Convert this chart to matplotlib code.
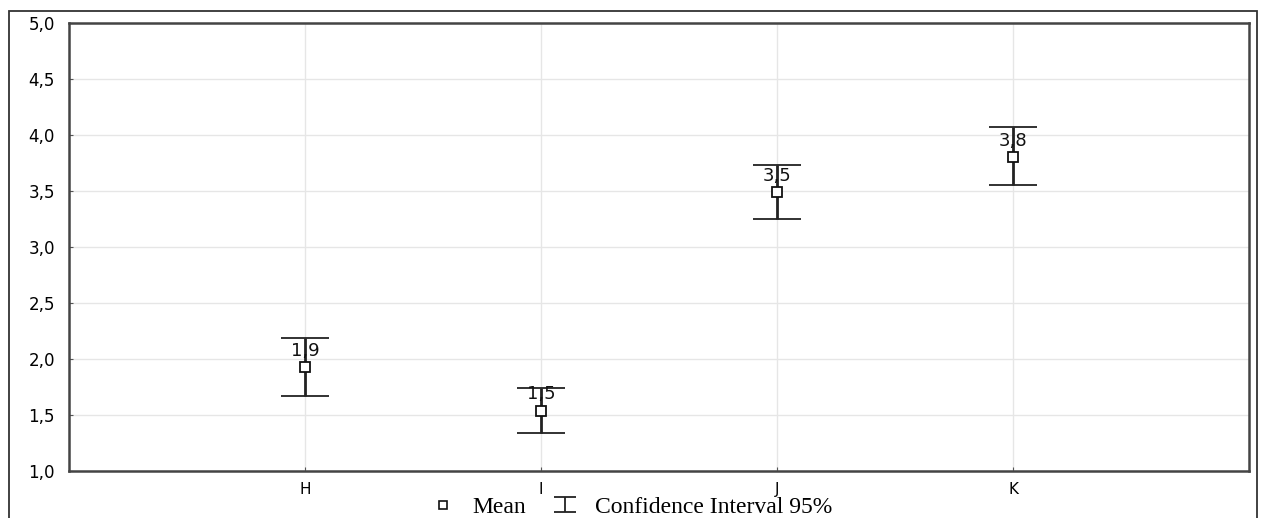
import matplotlib
matplotlib.use("Agg")
import matplotlib.pyplot as plt
from matplotlib.lines import Line2D
from matplotlib.patches import Rectangle
from matplotlib.legend_handler import HandlerErrorbar

categories = ["H", "I", "J", "K"]
means = [1.93, 1.54, 3.49, 3.80]
ci_upper = [2.19, 1.74, 3.73, 4.07]
ci_lower = [1.67, 1.34, 3.25, 3.55]
value_labels = ["1,9", "1,5", "3,5", "3,8"]
yticks = [1.0, 1.5, 2.0, 2.5, 3.0, 3.5, 4.0, 4.5, 5.0]
ytick_labels = ["1,0", "1,5", "2,0", "2,5", "3,0", "3,5", "4,0", "4,5", "5,0"]

W, H = 1262, 518
fig = plt.figure(figsize=(W / 100, H / 100), dpi=100)
ax = fig.add_axes([69 / W, 1 - 471 / H, (1249 - 69) / W, (471 - 23) / H])

x = list(range(1, len(categories) + 1))
yerr = [[m - l for m, l in zip(means, ci_lower)],
        [u - m for m, u in zip(means, ci_upper)]]

ax.errorbar(x, means, yerr=yerr, fmt="s", ms=6.5, mfc="white", mec="#111111",
            mew=1.3, ecolor="#222222", elinewidth=2, capsize=17, capthick=1.6,
            zorder=3)

for xi, m, lab in zip(x, means, value_labels):
    ax.annotate(lab, (xi, m), xytext=(0, 8), textcoords="offset points",
                ha="center", va="baseline", fontsize=13, color="#111111",
                family="DejaVu Sans", zorder=4)

ax.set_xlim(0, 5)
ax.set_ylim(1.0, 5.0)
ax.set_xticks(x)
ax.set_xticklabels(categories, fontsize=11, family="DejaVu Sans")
ax.set_yticks(yticks)
ax.set_yticklabels(ytick_labels, fontsize=12, family="DejaVu Sans")
ax.tick_params(axis="both", direction="in", length=3, color="#555555")
ax.tick_params(axis="y", pad=10)
ax.tick_params(axis="x", pad=8)
ax.grid(True, color="#e6e6e6", lw=1)
ax.set_axisbelow(True)
for s in ax.spines.values():
    s.set_color("#444444")
    s.set_linewidth(1.8)

# outer frame
fig.add_artist(Rectangle((9 / W, -0.2), (1257 - 9) / W, 1 - 11 / H + 0.2,
                         transform=fig.transFigure, fill=False,
                         edgecolor="#333333", lw=1.3))

# legend handles
h_mean = Line2D([], [], marker="s", ls="none", ms=6, mfc="white", mec="#111111", mew=1.2)
h_ci = ax.errorbar([float("nan")], [float("nan")], yerr=[[0.1], [0.1]], fmt="none",
                   ecolor="#222222", elinewidth=1.3, capsize=8, capthick=1.3)
leg = fig.legend([h_mean, h_ci], ["Mean", "Confidence Interval 95%"],
                 loc="center", bbox_to_anchor=(631 / W, 1 - 507 / H), ncol=2,
                 frameon=False, prop={"family": "Liberation Serif", "size": 17},
                 handlelength=1.1, handletextpad=0.7, columnspacing=1.1,
                 borderaxespad=0, borderpad=0,
                 handler_map={type(h_ci): HandlerErrorbar(yerr_size=0.3)})

fig.savefig("out.png", dpi=100)
